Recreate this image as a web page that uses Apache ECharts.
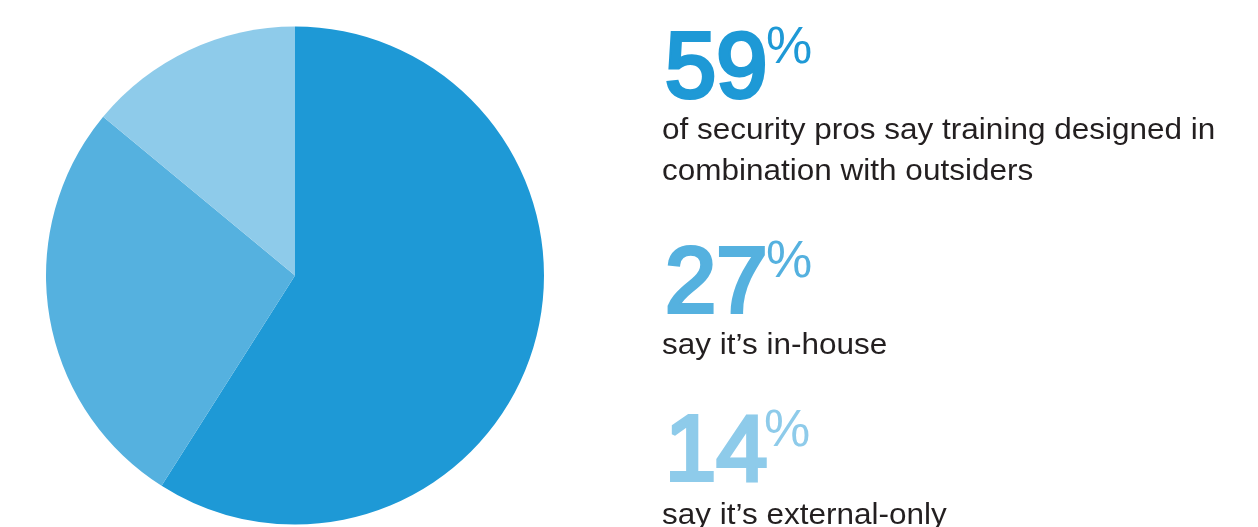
<!DOCTYPE html>
<html>
<head>
<meta charset="utf-8">
<script src="https://cdn.jsdelivr.net/npm/echarts@6/dist/echarts.min.js"></script>
<style>
  html, body { margin: 0; padding: 0; background: #ffffff; }
  #chart { width: 1258px; height: 527px; }
</style>
</head>
<body>
<div id="chart"></div>
<script>
// Survey shares: who designs security training
const categories = ['Combination with outsiders', 'In-house', 'External-only'];
const values = [59, 27, 14];
const captions = [
  'of security pros say training designed in\ncombination with outsiders',
  'say it\u2019s in-house',
  'say it\u2019s external-only'
];
const colors = ['#1e99d6', '#55b1df', '#8ecbea'];

const FONT = '"Liberation Sans", Arial, Helvetica, sans-serif';
// layout of each callout block: big number, superscript percent sign, caption
const numberTops = [24, 239, 407];
const percentTops = [23, 237, 406];
const percentLefts = [766, 766, 764];
const captionTops = [110.5, 325.5, 495.5];

const graphics = [];
values.forEach((v, i) => {
  // big figure: regular face with a same-colour outline for a medium weight
  graphics.push({
    type: 'text',
    left: 663, top: numberTops[i],
    style: { text: String(v), font: '92px ' + FONT, fill: colors[i], stroke: colors[i], lineWidth: 4 }
  });
  graphics.push({
    type: 'text',
    left: percentLefts[i], top: percentTops[i],
    style: { text: '%', font: '52px ' + FONT, fill: colors[i] }
  });
  graphics.push({
    type: 'text',
    left: 662, top: captionTops[i],
    scaleX: 1.05,
    style: { text: captions[i], font: '30px ' + FONT, fill: '#231f20', lineHeight: 41 }
  });
});

const chart = echarts.init(document.getElementById('chart'), null, { renderer: 'canvas' });
chart.setOption({
  animation: false,
  backgroundColor: '#ffffff',
  series: [{
    type: 'pie',
    center: [295, 275.5],
    radius: 249,
    startAngle: 90,
    clockwise: true,
    label: { show: false },
    labelLine: { show: false },
    emphasis: { disabled: true },
    itemStyle: { borderWidth: 0 },
    data: categories.map((c, i) => ({ name: c, value: values[i], itemStyle: { color: colors[i] } }))
  }],
  graphic: graphics
});
</script>
</body>
</html>
